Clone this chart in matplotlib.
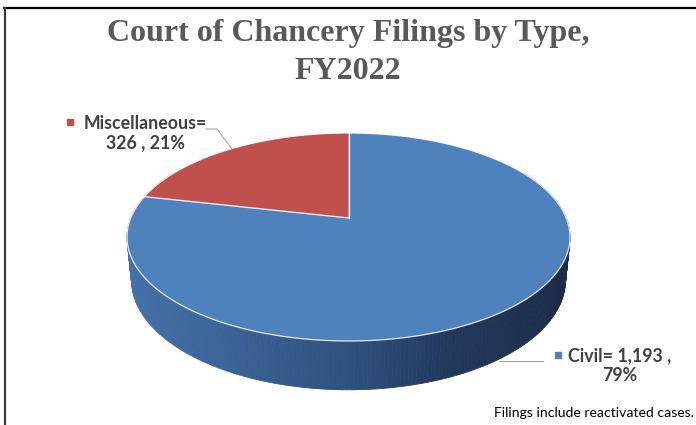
import numpy as np
import matplotlib.pyplot as plt
from matplotlib.patches import Polygon
from matplotlib.colors import to_rgb

# data
labels = ["Civil", "Miscellaneous"]
counts = [1193, 326]
pcts = [79, 21]
colors = ["#4F81BD", "#C0504D"]

W, H = 696, 425
fig = plt.figure(figsize=(6.96, 4.25), dpi=100)
ax = fig.add_axes([0, 0, 1, 1])
ax.set_xlim(0, W)
ax.set_ylim(H, 0)
ax.axis("off")

# simple perspective for the 3d pie
elev = np.radians(27)
dist = 4.87
depth = 0.22


def proj(theta, z=0.0):
    X = np.cos(theta)
    d = np.sin(theta)
    Y = d * np.sin(elev) + z * np.cos(elev)
    zc = d * np.cos(elev) - z * np.sin(elev)
    return X / (dist + zc), Y / (dist + zc)


ring = np.linspace(0, 2 * np.pi, 721)
rx, ry = proj(ring)
left, right, top, bottom = 127, 570, 133, 341
sx = (right - left) / (rx.max() - rx.min())
sy = (bottom - top) / (ry.max() - ry.min())


def to_px(x, y):
    return left + (x - rx.min()) * sx, top + (ry.max() - y) * sy


# slice angles, first slice starts at 12 o'clock going clockwise
fracs = np.array(counts) / sum(counts)
start = np.pi / 2
bounds = [start]
for f in fracs:
    bounds.append(bounds[-1] - f * 2 * np.pi)


def slice_of(a):
    a = (a - bounds[-1]) % (2 * np.pi) + bounds[-1]
    for i in range(len(fracs)):
        if bounds[i + 1] <= a <= bounds[i]:
            return i
    return 0


# side wall shading, lighter on the left
stops_x = [-1.0, -0.5, 0.0, 0.4, 1.0]
blue_stops = ["#4673AB", "#3C6499", "#30517E", "#22385B", "#1B2A44"]
red_stops = ["#A84542", "#963C3A", "#7F3230", "#672826", "#521F1E"]


def shade(stops, c):
    rgb = np.array([to_rgb(s) for s in stops])
    return [np.interp(c, stops_x, rgb[:, k]) for k in range(3)]


wall = np.linspace(np.pi - 0.5, 2 * np.pi + 0.5, 260)
quads = []
for a0, a1 in zip(wall[:-1], wall[1:]):
    p = [proj(a0), proj(a1), proj(a1, -depth), proj(a0, -depth)]
    p = [to_px(*q) for q in p]
    am = (a0 + a1) / 2
    i = slice_of(am)
    c = shade(blue_stops if i == 0 else red_stops, np.cos(am))
    quads.append((np.sin(am), p, c))
quads.sort(key=lambda q: -q[0])
for _, p, c in quads:
    ax.add_patch(Polygon(p, closed=True, facecolor=c, edgecolor=c, lw=0.6))

# top face
cx, cy = to_px(0.0, 0.0)
for i in range(len(fracs)):
    arc = np.linspace(bounds[i], bounds[i + 1], 200)
    px, py = to_px(*proj(arc))
    pts = [(cx, cy)] + list(zip(px, py))
    ax.add_patch(Polygon(pts, closed=True, facecolor=colors[i],
                         edgecolor="none"))
px, py = to_px(*proj(ring))
ax.plot(px, py, color="white", lw=0.9, alpha=0.85)
for b in bounds[:-1]:
    ex, ey = to_px(*proj(b))
    ax.plot([cx, ex], [cy, ey], color="white", lw=1.0, alpha=0.85)

# title
ax.text(348, 33, "Court of Chancery Filings by Type,", family="Liberation Serif",
        weight="bold", size=23, color="#595959", ha="center", va="center")
ax.text(348, 71, "FY2022", family="Liberation Serif",
        weight="bold", size=23, color="#595959", ha="center", va="center")

# data labels
lab_font = dict(family="Lato", weight="bold", size=12.8, color="#404040",
                ha="center", va="center", linespacing=1.2)
ax.text(145, 133, f"{labels[1]}=\n{counts[1]} , {pcts[1]}%", **lab_font)
ax.plot([70], [122], marker="s", ms=4, color=colors[1])
ax.plot([206, 217, 232], [129, 129, 149], color="#A6A6A6", lw=0.8)

ax.text(620, 366, f"{labels[0]}= {counts[0]:,} ,\n{pcts[0]}%", **lab_font)
ax.plot([558], [355], marker="s", ms=4, color=colors[0])
ax.plot([500, 543], [361, 361], color="#A6A6A6", lw=0.8)

ax.text(694, 417, "Filings include reactivated cases.", family="Lato",
        size=10.1, color="black", ha="right", va="baseline")

# frame lines
ax.plot([4, W], [8, 8], color="black", lw=1.6)
ax.plot([5, 5], [8, H], color="#3A3A3A", lw=1.6)

fig.savefig("out.png", dpi=100)
